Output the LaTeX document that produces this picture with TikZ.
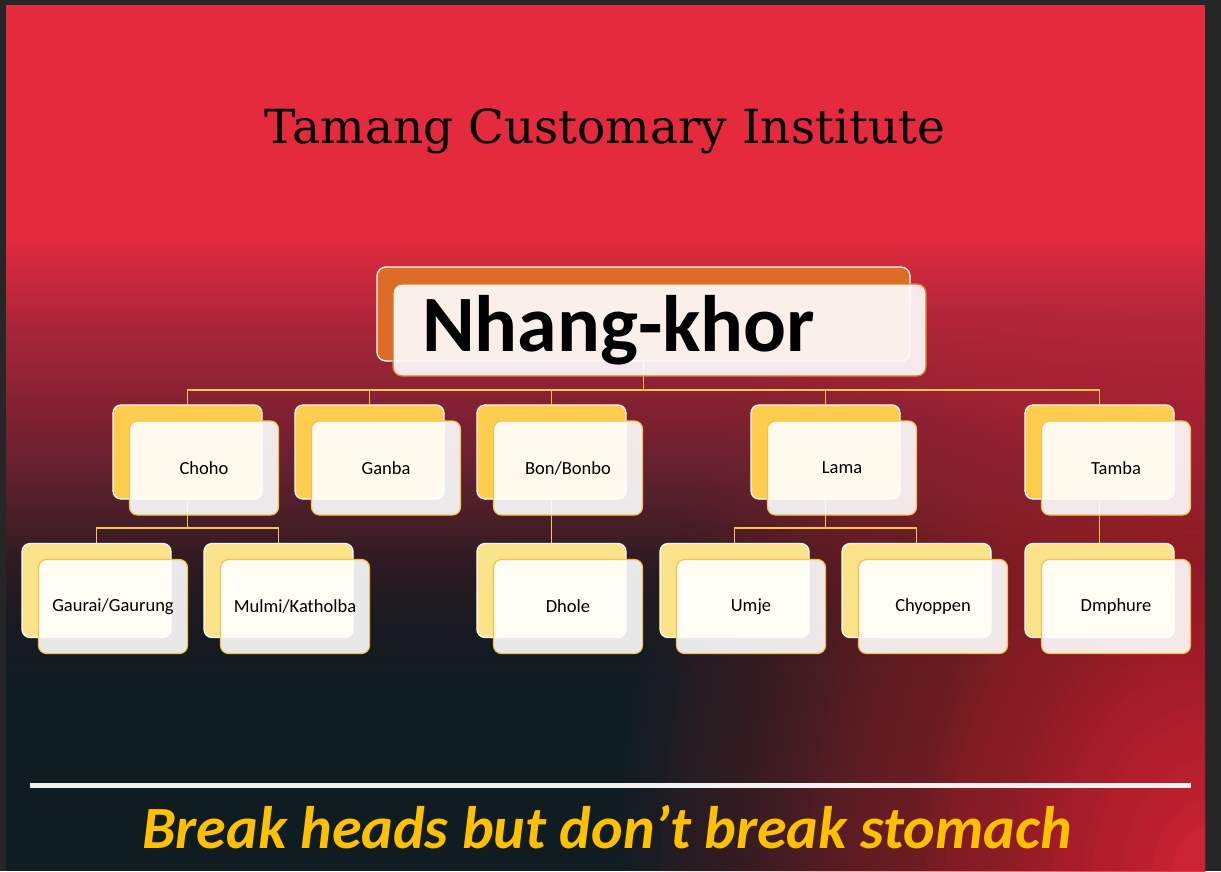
\documentclass[tikz,border=0pt]{standalone}
\usepackage{fontspec}
\setmainfont{Carlito}
\newfontfamily\titlefont{DejaVu Serif}
\definecolor{framegray}{HTML}{262626}
\definecolor{bgred}{HTML}{E52A3E}
\definecolor{bgA}{HTML}{A52538}
\definecolor{bgB}{HTML}{7A2030}
\definecolor{bgC}{HTML}{622030}
\definecolor{bgD}{HTML}{4A1E28}
\definecolor{bgE}{HTML}{2E1A22}
\definecolor{bgF}{HTML}{1C1A20}
\definecolor{bgdark}{HTML}{0F1C22}
\definecolor{lvlone}{HTML}{FFCD4D}
\definecolor{lvltwo}{HTML}{FBE38A}
\definecolor{goldborder}{HTML}{F2C14E}
\definecolor{rootorange}{HTML}{DC6C26}
\definecolor{rootborder}{HTML}{E07828}
\definecolor{conncolor}{HTML}{F3C650}
\definecolor{tagyellow}{HTML}{FFC000}
\definecolor{linewhite}{HTML}{F2F2F2}
\pgfdeclareverticalshading{basefade}{100bp}{color(0bp)=(bgdark); color(25bp)=(bgdark); color(33bp)=(bgF); color(38bp)=(bgE); color(43.5bp)=(bgD); color(48.5bp)=(bgC); color(53.5bp)=(bgB); color(64bp)=(bgA); color(75bp)=(bgred); color(100bp)=(bgred)}
\pgfdeclarelayer{bglayer}
\pgfdeclarelayer{connlayer}
\pgfsetlayers{bglayer,connlayer,main}
\tikzset{
  backone/.style={draw=white, line width=1.3pt, rounded corners=8pt, fill=lvlone,
    minimum width=149pt, minimum height=94pt, inner sep=0pt},
  backtwo/.style={backone, fill=lvltwo},
  frontbox/.style={draw=goldborder, line width=1.2pt, rounded corners=8pt, fill=white,
    fill opacity=0.9, text opacity=1, minimum width=149pt, minimum height=94pt,
    inner sep=0pt, font=\fontsize{18.5}{20}\selectfont},
  conn/.style={draw=conncolor, line width=1.4pt},
}
\begin{document}
\begin{tikzpicture}[x=1pt,y=-1pt]
\useasboundingbox (0,0) rectangle (1221,871);
\begin{pgfonlayer}{bglayer}
  \fill[framegray] (0,0) rectangle (1221,871);
  \begin{scope}
    \clip (6,5) rectangle (1205,871);
    \fill[bgred] (6,5) rectangle (1205,236);
    \fill[bgdark] (6,679) rectangle (1205,871);
    \shade[shading=basefade] (6,235) rectangle (1205,680);
    \foreach \m in {4,...,60}{
      \pgfmathsetmacro\glowop{1/\m}
      \pgfmathsetmacro\glowrx{9.8*\m}
      \pgfmathsetmacro\glowry{13.5*\m}
      \fill[bgred, fill opacity=\glowop] (1210,880) ellipse [x radius=\glowrx, y radius=\glowry];
    }
  \end{scope}
  \coordinate (lineL) at (30,785);
  \coordinate (lineR) at (1191,785);
  \draw[linewhite, line width=5pt] (lineL) -- (lineR);
\end{pgfonlayer}

% title and tagline
\node[font=\titlefont\fontsize{47}{50}\selectfont, anchor=base, text=black] (title) at (605,143) {Tamang Customary Institute};
\node[font=\bfseries\itshape\fontsize{60}{64}\selectfont, text=tagyellow, anchor=base] (tag) at (607,848) {Break heads but don’t break stomach};

% root
\node[draw=white, line width=1.3pt, rounded corners=9pt, fill=rootorange, minimum width=533pt, minimum height=94pt, inner sep=0pt] (rootB) at (643.5,314) {};
\node[draw=rootborder, line width=1.3pt, rounded corners=9pt, fill=white, fill opacity=0.9, text opacity=1,
  minimum height=92pt, text width=475pt, align=left, inner xsep=29pt, inner ysep=0pt,
  font=\bfseries\fontsize{80}{80}\selectfont] (root) at (659.5,330) {Nhang-khor};

% level one
\node[backone] (chohoB) at (187.5,452) {};
\node[frontbox] (choho) at (204,468) {Choho};
\node[backone] (ganbaB) at (369.5,452) {};
\node[frontbox] (ganba) at (386,468) {Ganba};
\node[backone] (bonB) at (551.5,452) {};
\node[frontbox] (bon) at (568,468) {Bon/Bonbo};
\node[backone] (lamaB) at (825.5,452) {};
\node[frontbox] (lama) at (842,468) {Lama};
\node[backone] (tambaB) at (1099.5,452) {};
\node[frontbox] (tamba) at (1116,468) {Tamba};

% level two
\node[backtwo] (gauraiB) at (96.5,590.5) {};
\node[frontbox] (gaurai) at (113,606.5) {Gaurai/Gaurung};
\node[backtwo] (mulmiB) at (278.5,590.5) {};
\node[frontbox] (mulmi) at (295,606.5) {Mulmi/Katholba};
\node[backtwo] (dholeB) at (551.5,590.5) {};
\node[frontbox] (dhole) at (568,606.5) {Dhole};
\node[backtwo] (umjeB) at (734.5,590.5) {};
\node[frontbox] (umje) at (751,606.5) {Umje};
\node[backtwo] (chyoppenB) at (916.5,590.5) {};
\node[frontbox] (chyoppen) at (933,606.5) {Chyoppen};
\node[backtwo] (dmphureB) at (1099.5,590.5) {};
\node[frontbox] (dmphure) at (1116,606.5) {Dmphure};

% connectors
\begin{pgfonlayer}{connlayer}
  \coordinate (bus) at (643.5,390);
  \draw[conn] (rootB.south) -- (bus);
  \draw[conn] (chohoB.north) |- (bus);
  \draw[conn] (ganbaB.north) |- (bus);
  \draw[conn] (bonB.north) |- (bus);
  \draw[conn] (lamaB.north) |- (bus);
  \draw[conn] (tambaB.north) |- (bus);
  \coordinate (cbus) at (187.5,528);
  \draw[conn] (chohoB.south) -- (cbus);
  \draw[conn] (gauraiB.north) |- (cbus);
  \draw[conn] (mulmiB.north) |- (cbus);
  \draw[conn] (bonB.south) -- (dholeB.north);
  \coordinate (lbus) at (825.5,528);
  \draw[conn] (lamaB.south) -- (lbus);
  \draw[conn] (umjeB.north) |- (lbus);
  \draw[conn] (chyoppenB.north) |- (lbus);
  \draw[conn] (tambaB.south) -- (dmphureB.north);
\end{pgfonlayer}
\end{tikzpicture}
\end{document}
